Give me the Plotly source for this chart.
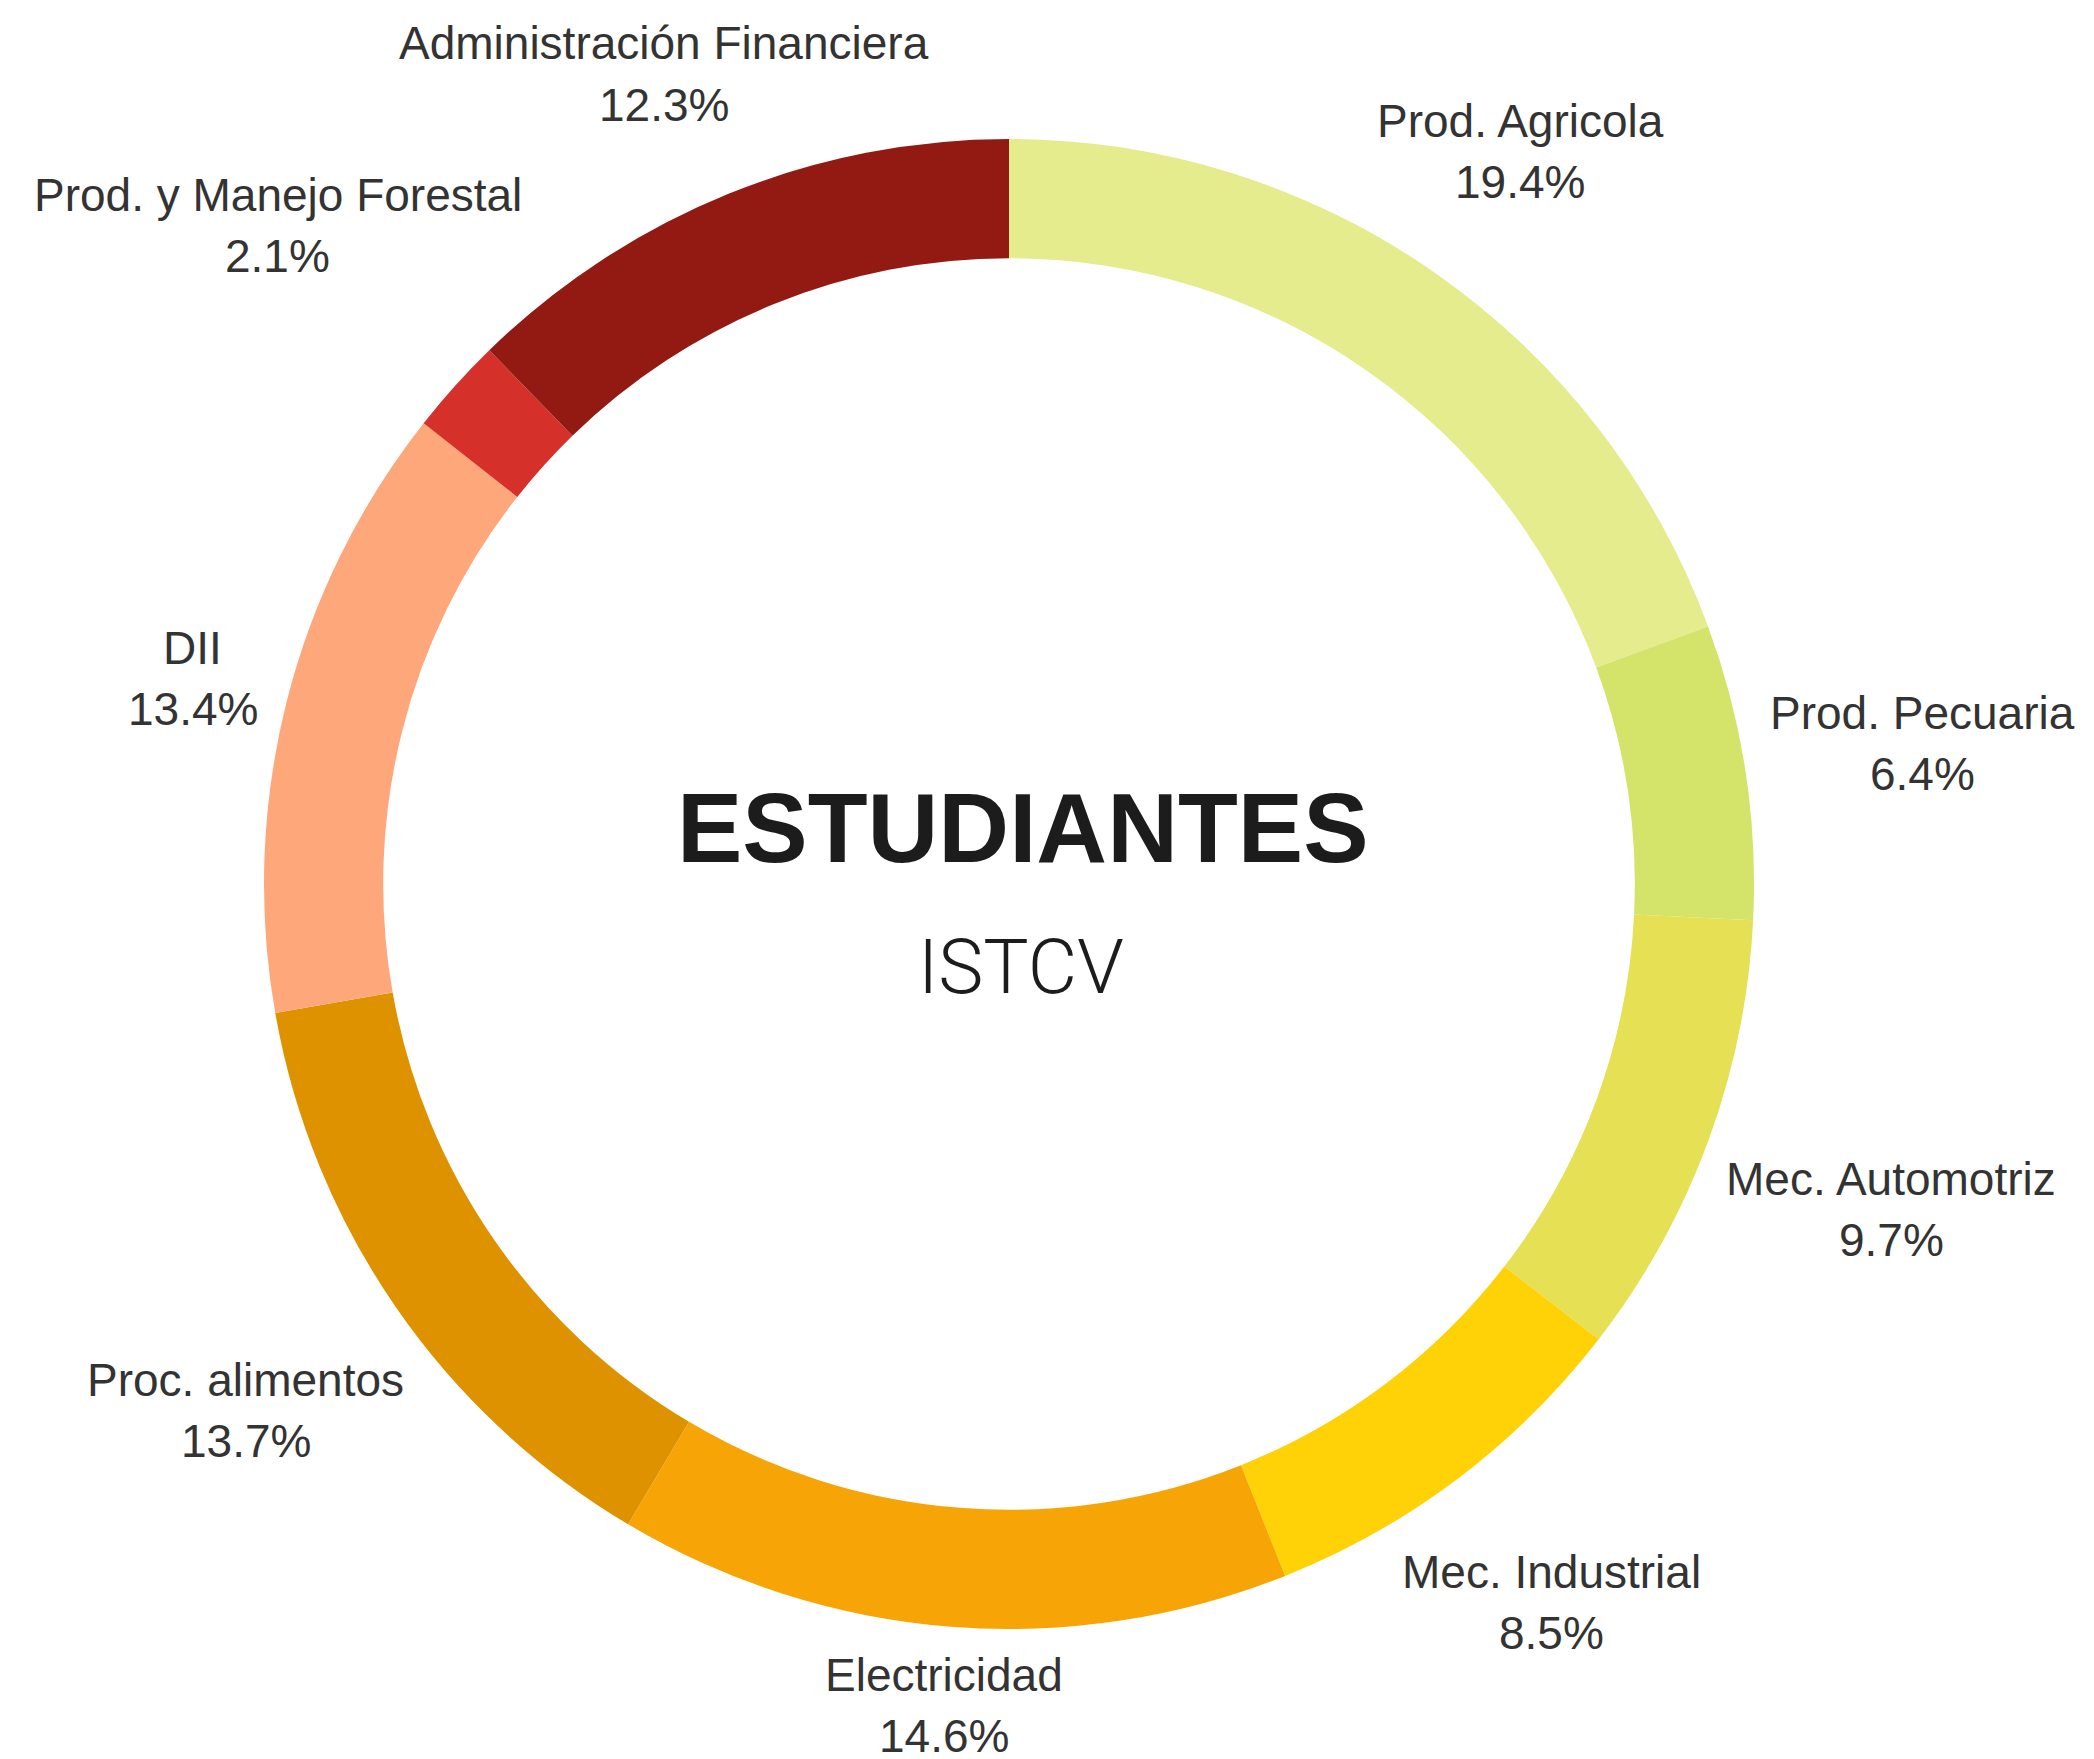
import math
import plotly.graph_objects as go

# data
carreras = [
    "Prod. Agricola",
    "Prod. Pecuaria",
    "Mec. Automotriz",
    "Mec. Industrial",
    "Electricidad",
    "Proc. alimentos",
    "DII",
    "Prod. y Manejo Forestal",
    "Administración Financiera",
]
porcentajes = [19.4, 6.4, 9.7, 8.5, 14.6, 13.7, 13.4, 2.1, 12.3]
colores = [
    "#e4ec8d",
    "#d4e36a",
    "#e5e054",
    "#fed206",
    "#f7a506",
    "#de9200",
    "#fea77b",
    "#d5312a",
    "#921a13",
]

W, H = 2094, 1759
CX, CY, R = 1001, 876, 745
LABEL_SIZE = 46
LINE_GAP = 61

# approximate Arial / Liberation Sans widths (per em) for label placement
_cw = {" ": .278, ".": .278, "%": .889, "A": .667, "D": .722, "E": .667, "F": .611,
       "I": .278, "M": .833, "P": .667, "a": .556, "c": .5, "d": .556, "e": .556,
       "g": .556, "i": .222, "j": .222, "l": .222, "m": .833, "n": .556, "o": .556,
       "ó": .556, "r": .333, "s": .5, "t": .278, "u": .556, "y": .5, "z": .5}


def text_w(s):
    return sum(_cw.get(ch, .556) for ch in s) * LABEL_SIZE


fig = go.Figure(
    go.Pie(
        labels=carreras,
        values=porcentajes,
        hole=0.84,
        sort=False,
        direction="clockwise",
        rotation=0,
        marker=dict(colors=colores, line=dict(width=0)),
        textinfo="none",
        hovertemplate="%{label}: %{percent}<extra></extra>",
        domain=dict(x=[(CX - R) / W, (CX + R) / W], y=[1 - (CY + R) / H, 1 - (CY - R) / H]),
        showlegend=False,
    )
)

# outside labels, placed along each slice's mid angle, kept inside the canvas
total = sum(porcentajes)
acc = 0
annotations = []
label_font = dict(family="Liberation Sans, Arial", size=LABEL_SIZE, color="#333333")
for nombre, v in zip(carreras, porcentajes):
    mid = (acc + v / 2) / total * 2 * math.pi
    acc += v
    pct = f"{v / total * 100:.1f}%"
    a = max(text_w(nombre), text_w(pct)) / 2
    b = 56
    d = R + 20 + a * abs(math.sin(mid)) + b * abs(math.cos(mid))
    px = CX + d * math.sin(mid)
    py = CY - d * math.cos(mid)
    py = min(max(py, 66), H - 62)
    for txt, off in ((nombre, -LINE_GAP / 2), (pct, LINE_GAP / 2)):
        annotations.append(
            dict(
                text=txt,
                x=px / W,
                y=1 - (py + off) / H,
                xref="paper",
                yref="paper",
                xanchor="center",
                yanchor="middle",
                showarrow=False,
                font=label_font,
            )
        )

annotations.append(
    dict(
        text="<b>ESTUDIANTES</b>",
        x=1015 / W,
        y=1 - 820 / H,
        xref="paper",
        yref="paper",
        showarrow=False,
        font=dict(family="Liberation Sans, Arial", size=98, color="#1c1c1c"),
    )
)
annotations.append(
    dict(
        text="ISTCV",
        x=1013 / W,
        y=1 - 959 / H,
        xref="paper",
        yref="paper",
        showarrow=False,
        font=dict(family="Roboto", size=76, color="#1c1c1c", weight=300),
    )
)

fig.update_layout(
    width=W,
    height=H,
    margin=dict(l=0, r=0, t=0, b=0),
    paper_bgcolor="white",
    plot_bgcolor="white",
    annotations=annotations,
)

fig.write_html("out.html")
